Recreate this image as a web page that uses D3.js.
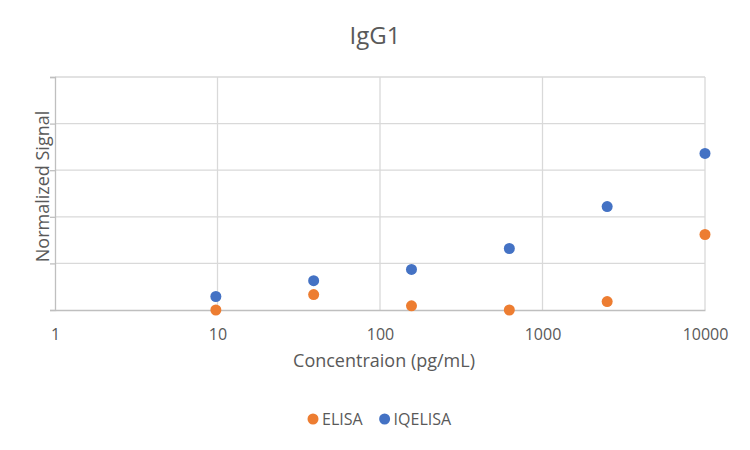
<!DOCTYPE html>
<html>
<head>
<meta charset="utf-8">
<script src="https://cdn.jsdelivr.net/npm/d3@7"></script>
<style>
  body { margin: 0; background: #fff; }
  text { font-family: "Open Sans", "Noto Sans", sans-serif; fill: #595959; }
</style>
</head>
<body>
<div id="chart"></div>
<script>
// Data for the chart (y in gridline units; the original axis has no labels)
const concentration = [9.77, 39.06, 156.25, 625, 2500, 10000];
const elisa = [0, 0.33, 0.09, 0, 0.18, 1.62];
const iqelisa = [0.29, 0.63, 0.87, 1.32, 2.22, 3.36];
const xTicks = [1, 10, 100, 1000, 10000];
const yTicks = [0, 1, 2, 3, 4, 5];

const series = [
    { name: "ELISA", values: elisa, color: "#ed7d31" },
    { name: "IQELISA", values: iqelisa, color: "#4472c4" }
];

const W = 750, H = 450;
const margin = { top: 77, right: 45, bottom: 140, left: 55 };
const width = W - margin.left - margin.right;
const height = H - margin.top - margin.bottom;

const svg = d3.select("#chart")
    .append("svg")
    .attr("width", W)
    .attr("height", H);

const g = svg.append("g")
    .attr("transform", `translate(${margin.left},${margin.top})`);

// Scales
const x = d3.scaleLog()
    .domain([1, 10000])
    .range([0, width]);

const y = d3.scaleLinear()
    .domain([0, 5])
    .range([height, 0]);

// Gridlines
g.append("g")
    .selectAll("line")
    .data(yTicks.slice(1))
    .join("line")
    .attr("x1", 0)
    .attr("x2", width)
    .attr("y1", d => y(d))
    .attr("y2", d => y(d))
    .attr("stroke", "#d9d9d9")
    .attr("stroke-width", 1.3);

g.append("g")
    .selectAll("line")
    .data(xTicks.slice(1))
    .join("line")
    .attr("x1", d => x(d))
    .attr("x2", d => x(d))
    .attr("y1", 0)
    .attr("y2", height)
    .attr("stroke", "#d9d9d9")
    .attr("stroke-width", 1.3);

// Y axis (ticks only, no labels)
const yAxis = g.append("g")
    .call(d3.axisLeft(y).tickValues(yTicks).tickSize(5).tickFormat(""));
yAxis.selectAll("line, path").attr("stroke", "#bfbfbf").attr("stroke-width", 1.3);

// X axis
const xAxis = g.append("g")
    .attr("transform", `translate(0,${height})`)
    .call(d3.axisBottom(x).tickValues(xTicks).tickSize(0).tickPadding(19).tickFormat(d3.format("d")));
xAxis.select(".domain").attr("stroke", "#bfbfbf").attr("stroke-width", 1.3);
xAxis.selectAll("text")
    .style("font-size", "16px")
    .style("fill", "#595959");

// Points
series.forEach(s => {
    g.append("g")
        .selectAll("circle")
        .data(s.values)
        .join("circle")
        .attr("cx", (d, i) => x(concentration[i]))
        .attr("cy", d => y(d))
        .attr("r", 5.5)
        .attr("fill", s.color);
});

// Title
svg.append("text")
    .attr("x", W / 2)
    .attr("y", 44)
    .attr("text-anchor", "middle")
    .style("font-size", "24px")
    .text("IgG1");

// Axis titles
svg.append("text")
    .attr("x", margin.left + width / 2 + 4)
    .attr("y", 367)
    .attr("text-anchor", "middle")
    .style("font-size", "18px")
    .text("Concentraion (pg/mL)");

svg.append("text")
    .attr("transform", `translate(49,${margin.top + height / 2 - 7}) rotate(-90)`)
    .attr("text-anchor", "middle")
    .style("font-size", "18px")
    .text("Normalized Signal");

// Legend
const legend = svg.append("g").attr("transform", "translate(313,419)");
let lx = 0;
series.forEach(s => {
    const item = legend.append("g").attr("transform", `translate(${lx},0)`);
    item.append("circle").attr("r", 5.5).attr("fill", s.color);
    const t = item.append("text")
        .attr("x", 9)
        .attr("dy", "0.36em")
        .style("font-size", "16px")
        .text(s.name);
    lx += 9 + t.node().getComputedTextLength() + 22;
});
</script>
</body>
</html>
